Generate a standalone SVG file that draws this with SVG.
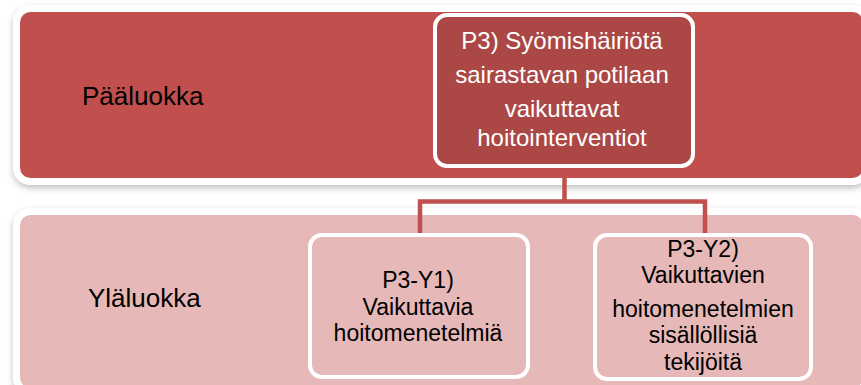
<svg xmlns="http://www.w3.org/2000/svg" width="861" height="385" viewBox="0 0 861 385">
<defs>
<filter id="sh" x="-5%" y="-10%" width="110%" height="130%">
<feDropShadow dx="0" dy="3" stdDeviation="3" flood-color="#000" flood-opacity="0.25"/>
</filter>
</defs>
<style>
.band{stroke:#fff;stroke-width:7}
.node{stroke:#fff;stroke-width:4}
.lbl{font-family:"Liberation Sans",Arial,sans-serif;font-size:26px;fill:#000}
.t{font-family:"Liberation Sans",Arial,sans-serif;font-size:24px;text-anchor:middle}
.s{font-size:23px}
.conn{fill:none;stroke:#c0504d;stroke-width:4.5}
</style>
<g id="band-top">
<rect class="band" x="16.5" y="8.5" width="850" height="173" rx="14" fill="#c0504d" filter="url(#sh)"/>
<text class="lbl" x="82" y="105">Pääluokka</text>
</g>
<g id="band-bottom">
<rect class="band" x="16.5" y="211.5" width="850" height="180" rx="14" fill="#e6b8b7" filter="url(#sh)"/>
<text class="lbl" x="88" y="307">Yläluokka</text>
</g>
<g id="connectors">
<path class="conn" d="M564.5 167 V201.5 M419 201.5 H705 M420 199.3 V234 M705 199.3 V234"/>
</g>
<g id="node-p3">
<rect class="node" x="435" y="15" width="258" height="151" rx="12" fill="#ab4745"/>
<text class="t" fill="#fff"><tspan x="562" y="49">P3) Syömishäiriötä</tspan><tspan x="562" y="83">sairastavan potilaan</tspan><tspan x="562" y="117">vaikuttavat</tspan><tspan x="562" y="146">hoitointerventiot</tspan></text>
</g>
<g id="node-y1">
<rect class="node" x="310" y="235" width="218" height="142" rx="12" fill="#e6b8b7"/>
<text class="t s" fill="#000"><tspan x="418" y="288">P3-Y1)</tspan><tspan x="418" y="314.5">Vaikuttavia</tspan><tspan x="418" y="341">hoitomenetelmiä</tspan></text>
</g>
<g id="node-y2">
<rect class="node" x="595" y="235" width="216" height="144" rx="12" fill="#e6b8b7"/>
<text class="t s" fill="#000"><tspan x="703" y="257">P3-Y2)</tspan><tspan x="703" y="283">Vaikuttavien</tspan><tspan x="703" y="317">hoitomenetelmien</tspan><tspan x="703" y="343">sisällöllisiä</tspan><tspan x="703" y="370">tekijöitä</tspan></text>
</g>
</svg>
